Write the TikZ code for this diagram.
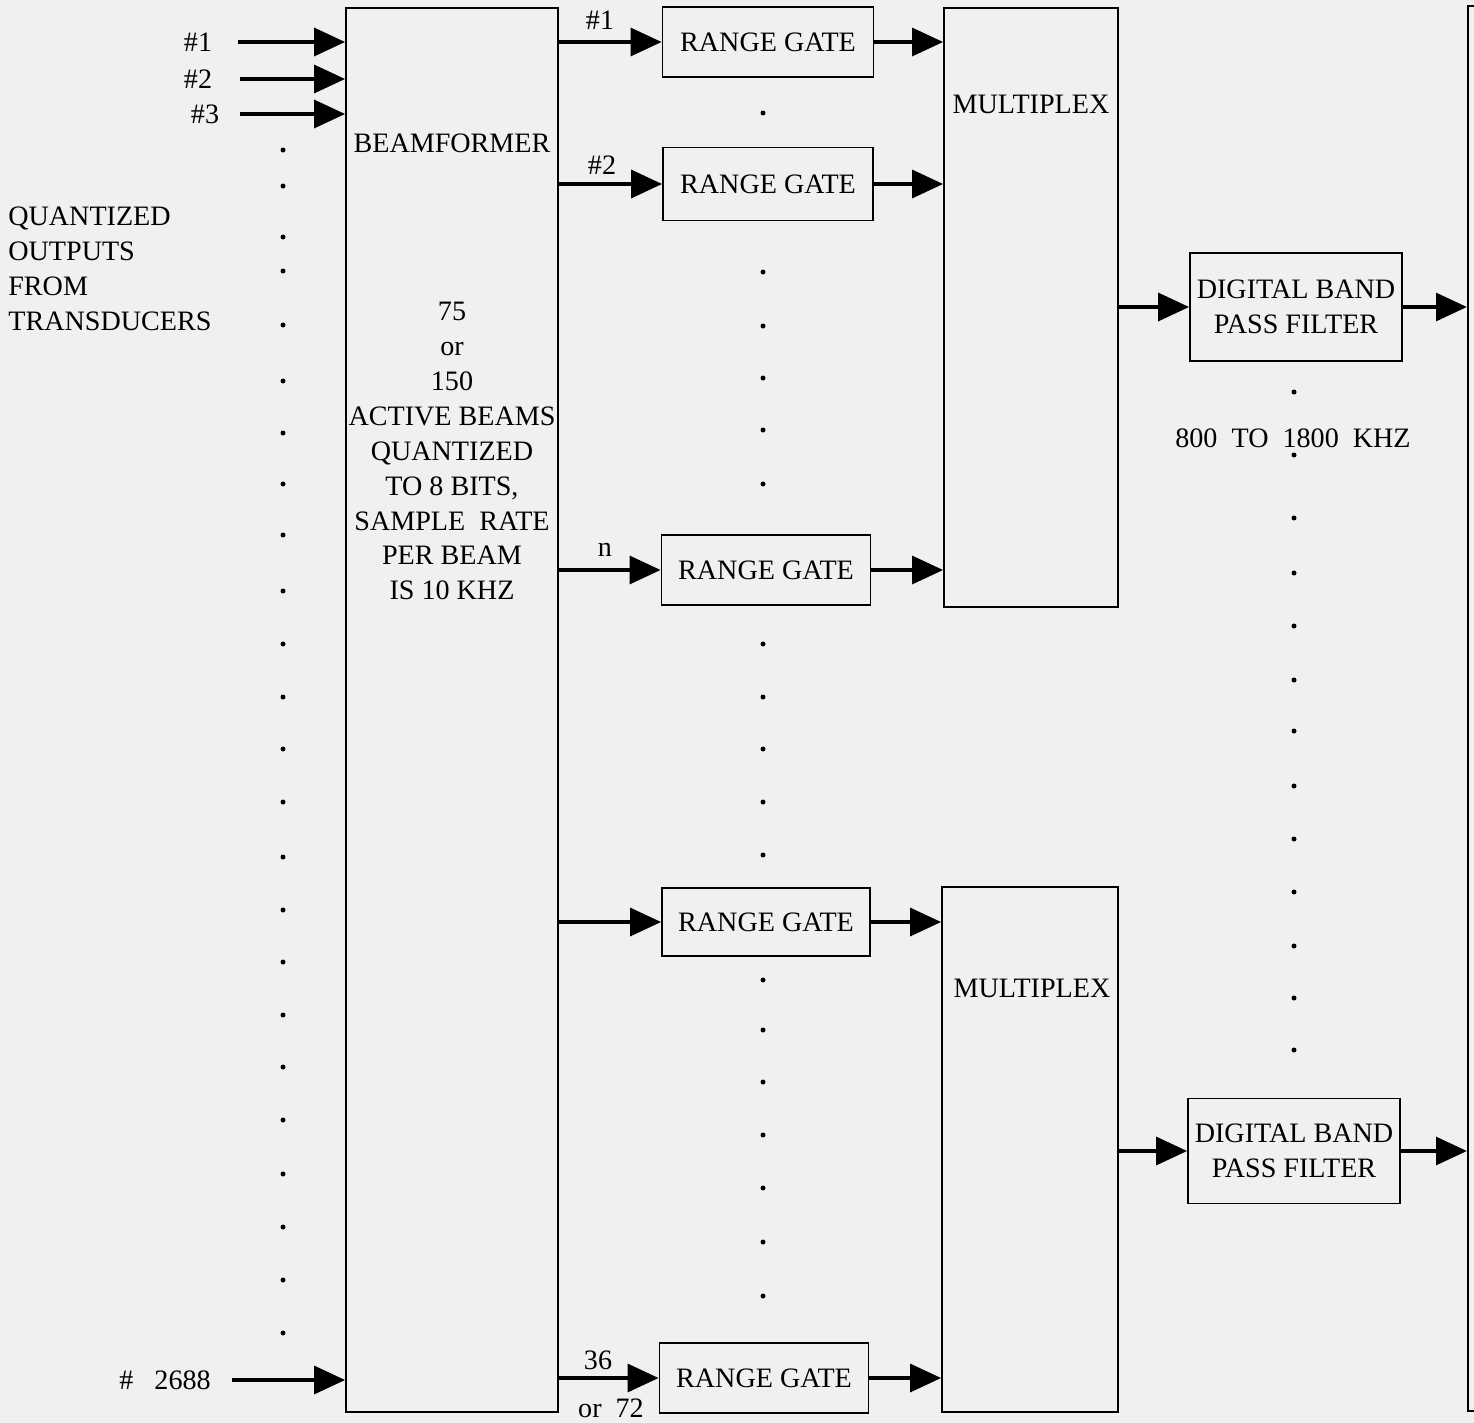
\documentclass[tikz,border=0pt]{standalone}
\usepackage{fontspec}
\setmainfont{Liberation Serif}
\usetikzlibrary{arrows.meta}
\begin{document}
\begin{tikzpicture}[x=0.02cm,y=-0.02cm,
  every node/.style={font=\fontsize{16}{19.9}\selectfont, inner sep=0pt},
  box/.style 2 args={draw, line width=0.9pt, minimum width=#1*0.02cm, minimum height=#2*0.02cm},
  arr/.style={line width=2.6pt, -{Triangle[length=0.62cm,width=0.55cm]}},
  dotmark/.style={fill=black}]
\useasboundingbox (0,0) rectangle (1474,1423);
\clip (0,0) rectangle (1474,1423);
\fill[black!6] (0,0) rectangle (1474,1423);

% beamformer
\node[box={212}{1404}] (BF) at (452,710) {};
\node (bft) at (452,143) {BEAMFORMER};
\node[align=center] (bfdesc) at (452,451) {75\\or\\150\\ACTIVE BEAMS\\QUANTIZED\\TO 8 BITS,\\SAMPLE\ \ RATE\\PER BEAM\\IS 10 KHZ};

% left text
\node[align=left, anchor=west] (qo) at (8,269) {QUANTIZED\\OUTPUTS\\FROM\\TRANSDUCERS};

% inputs
\node (n1) at (198,42) {\#1};
\node (n2) at (198,79) {\#2};
\node (n3) at (205,114) {\#3};
\node (n4) at (165,1380) {\#\ \ \ 2688};
\coordinate (i1) at (238,42);
\coordinate (i2) at (240,79);
\coordinate (i3) at (240,114);
\coordinate (i4) at (232,1380);
\foreach \c in {i1,i2,i3,i4} \draw[arr] (\c) -- (\c -| BF.west);

% range gates
\node[box={211}{70}] (RG1) at (768,42) {RANGE GATE};
\node[box={210}{73}] (RG2) at (768,184) {RANGE GATE};
\node[box={209}{70}] (RG3) at (766,570) {RANGE GATE};
\node[box={208}{68}] (RG4) at (766,922) {RANGE GATE};
\node[box={209}{70}] (RG5) at (764,1378) {RANGE GATE};

\node (l1) at (600,20) {\#1};
\node (l2) at (602,165) {\#2};
\node (l3) at (605,550) {n};
\node (l5) at (598,1360) {36};
\node (l6) at (611,1408) {or\ \ 72};

% multiplexers
\node[box={174}{599}] (MX1) at (1031,307.5) {};
\node (mx1t) at (1031,104) {MULTIPLEX};
\node[box={176}{525}] (MX2) at (1030,1149.5) {};
\node (mx2t) at (1032,988) {MULTIPLEX};

\foreach \r in {RG1,RG2,RG3} {
  \draw[arr] (BF.east |- \r.west) -- (\r.west);
  \draw[arr] (\r.east) -- (\r.east -| MX1.west);
}
\foreach \r in {RG4,RG5} {
  \draw[arr] (BF.east |- \r.west) -- (\r.west);
  \draw[arr] (\r.east) -- (\r.east -| MX2.west);
}

% filters
\node[box={212}{108}, align=center] (DB1) at (1296,307) {DIGITAL BAND\\PASS FILTER};
\node[box={212}{105}, align=center] (DB2) at (1294,1151) {DIGITAL BAND\\PASS FILTER};
\node (freq) at (1293,438) {800\ \ TO\ \ 1800\ \ KHZ};

% output box (partly off page)
\node[draw, line width=1.4pt, minimum width=1.2cm, minimum height=28.1cm, anchor=north west] (OUT) at (1467,5) {};

\draw[arr] (MX1.east |- DB1.west) -- (DB1.west);
\draw[arr] (DB1.east) -- (DB1.east -| OUT.west);
\draw[arr] (MX2.east |- DB2.west) -- (DB2.west);
\draw[arr] (DB2.east) -- (DB2.east -| OUT.west);

% continuation dots
\foreach \y in {150,186,237,271,325,381,433,484,535,591,644,697,749,802,857,910,962,1015,1067,1120,1174,1227,1280,1333}
  \fill[dotmark] (283,\y) circle (2.5);
\foreach \y in {113,272,326,378,430,484,644,697,749,802,855,980,1030,1082,1135,1188,1242,1296}
  \fill[dotmark] (763,\y) circle (2.5);
\foreach \y in {392,455,518,573,626,680,731,786,839,892,946,998,1050}
  \fill[dotmark] (1294,\y) circle (2.5);
\end{tikzpicture}
\end{document}
